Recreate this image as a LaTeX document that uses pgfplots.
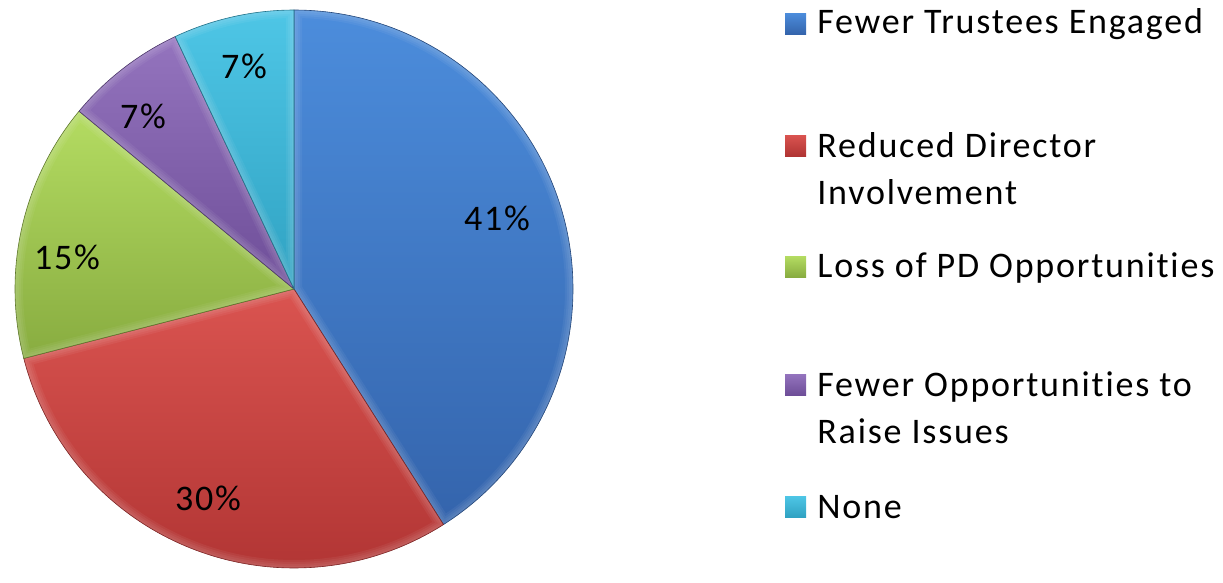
\documentclass[border=0pt]{standalone}
\usepackage{pgfplots}
\pgfplotsset{compat=1.18}
\usepackage{pgfplotstable}
\usepackage{fontspec}
\setmainfont{Carlito}
\newfontfamily\wide[LetterSpace=5, Ligatures=NoCommon]{Carlito}
\pgfplotstableread{
value top bottom
41 4C8DDC 3464AC
30 DA5450 B03433
15 B4DC62 88AC40
7 9474BE 6E4E98
7 4EC6E6 30A2C2
}\piedata
\begin{document}
\begin{tikzpicture}
\begin{axis}[
  scale only axis, width=611.5pt, height=284.5pt,
  xmin=0, xmax=1223, ymin=0, ymax=569, y dir=reverse,
  hide axis, clip=false]
\pgfplotsextra{
  \path (axis cs:0,0) rectangle (axis cs:1223,569);
  \xdef\cumangle{90}
  \foreach \i in {0,...,4}{
    \pgfplotstablegetelem{\i}{value}\of\piedata \let\val\pgfplotsretval
    \pgfplotstablegetelem{\i}{top}\of\piedata \edef\ctop{\pgfplotsretval}
    \pgfplotstablegetelem{\i}{bottom}\of\piedata \edef\cbot{\pgfplotsretval}
    \definecolor{ct}{HTML}{\ctop}
    \definecolor{cb}{HTML}{\cbot}
    \pgfmathsetmacro\startA{\cumangle}
    \pgfmathsetmacro\endA{\cumangle-3.6*\val}
    \begin{scope}
    \path[clip] (axis cs:294,289) -- ++(\startA:139.5pt)
      arc[start angle=\startA, end angle=\endA, radius=139.5pt] -- cycle;
    \shade[top color=ct, bottom color=cb]
      (axis cs:294,289) -- ++(\startA:139.5pt)
      arc[start angle=\startA, end angle=\endA, radius=139.5pt] -- cycle;
    \foreach \w in {8,6,4,2}{
    \draw[white, opacity=0.05, line width=\w pt, line join=round]
      (axis cs:294,289) -- ++(\startA:139.5pt)
      arc[start angle=\startA, end angle=\endA, radius=139.5pt] -- cycle;
    }
    \end{scope}
    \draw[cb!70!black, line width=0.3pt]
      (axis cs:294,289) -- ++(\startA:139.5pt)
      arc[start angle=\startA, end angle=\endA, radius=139.5pt] -- cycle;
    \xdef\cumangle{\endA}
  }
}
\begin{scope}[font=\wide\fontsize{18}{21}\selectfont]
\node at (axis cs:497,218) {41\%};
\node at (axis cs:208,498) {30\%};
\node at (axis cs:67,257) {15\%};
\node at (axis cs:143,116) {7\%};
\node at (axis cs:244,66) {7\%};
\end{scope}
\begin{scope}[font=\wide\fontsize{18}{21}\selectfont, every node/.style={anchor=base west, inner sep=0pt}]
\node at (axis cs:817,33) {Fewer Trustees Engaged};
\node at (axis cs:817,157) {Reduced Director};
\node at (axis cs:817,204) {Involvement};
\node at (axis cs:817,277) {Loss of PD Opportunities};
\node at (axis cs:817,396) {Fewer Opportunities to};
\node at (axis cs:817,443) {Raise Issues};
\node at (axis cs:817,518) {None};
\end{scope}
\definecolor{l1t}{HTML}{4C8DDC}\definecolor{l1b}{HTML}{3464AC}
\definecolor{l2t}{HTML}{DA5450}\definecolor{l2b}{HTML}{B03433}
\definecolor{l3t}{HTML}{B4DC62}\definecolor{l3b}{HTML}{88AC40}
\definecolor{l4t}{HTML}{9474BE}\definecolor{l4b}{HTML}{6E4E98}
\definecolor{l5t}{HTML}{4EC6E6}\definecolor{l5b}{HTML}{30A2C2}
\shade[top color=l1t, bottom color=l1b] (axis cs:785,13) rectangle (axis cs:806,34);
\shade[top color=l2t, bottom color=l2b] (axis cs:785,135) rectangle (axis cs:806,156);
\shade[top color=l3t, bottom color=l3b] (axis cs:785,256) rectangle (axis cs:806,277);
\shade[top color=l4t, bottom color=l4b] (axis cs:785,374) rectangle (axis cs:806,395);
\shade[top color=l5t, bottom color=l5b] (axis cs:785,496) rectangle (axis cs:806,517);
\end{axis}
\end{tikzpicture}
\end{document}
